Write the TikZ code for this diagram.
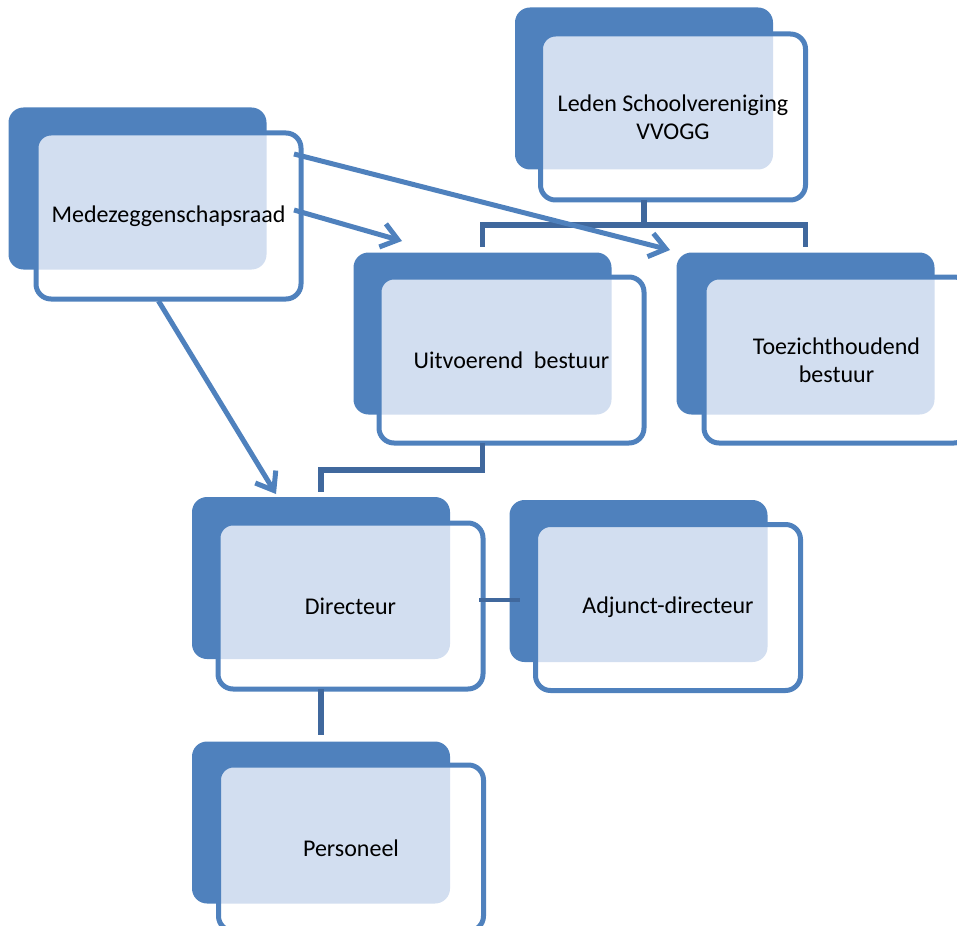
\documentclass[tikz,border=0pt]{standalone}
\usepackage{fontspec}
\setmainfont{Carlito}
\usetikzlibrary{arrows.meta}
\definecolor{mainblue}{RGB}{79,129,189}
\definecolor{linkblue}{RGB}{64,104,157}
\definecolor{tintblue}{RGB}{210,222,240}
\begin{document}
\begin{tikzpicture}[x=1pt,y=-1pt,
  backbox/.style={fill=mainblue, rounded corners=15pt, minimum width=258pt, minimum height=162pt, inner sep=0pt, outer sep=0pt},
  frontbox/.style={fill=white, rounded corners=15pt, minimum width=265pt, minimum height=166pt, inner sep=0pt, outer sep=0pt, align=center, font=\fontsize{24pt}{28pt}\selectfont,
    path picture={\fill[tintblue, rounded corners=15pt] (#1.north west) rectangle (#1.south east);},
    postaction={draw=mainblue, line width=5pt}},
  link/.style={draw=linkblue, line width=5.5pt},
  arrowline/.style={draw=mainblue, line width=5pt, -{Straight Barb[length=16pt,width=24pt]}}]
\useasboundingbox (0,0) rectangle (957,925);
\clip (0,0) rectangle (957,925);

% units
\node[backbox] (ledB) at (644,88.5) {};
\node[frontbox=ledB] (ledF) at (673,117) {Leden Schoolvereniging\\VVOGG};

\node[backbox] (medB) at (137.5,188.5) {};
\node[frontbox=medB] (medF) at (168.5,216) {Medezeggenschapsraad};

\node[backbox] (uitB) at (482.5,333.5) {};
\node[frontbox=uitB] (uitF) at (511.5,360) {Uitvoerend\ \ bestuur};

\node[backbox] (toeB) at (805.5,333.5) {};
\node[frontbox=toeB] (toeF) at (836.5,360) {Toezichthoudend\\bestuur};

\node[backbox] (dirB) at (321,578) {};
\node[frontbox=dirB] (dirF) at (350.5,606) {Directeur};

\node[backbox] (adjB) at (638.5,581) {};
\node[frontbox=adjB] (adjF) at (668,607.5) {Adjunct-directeur};

\node[backbox] (perB) at (321,822.5) {};
\node[frontbox=perB] (perF) at (351,848) {Personeel};

% connectors
\coordinate (ledJ) at (644,225);
\draw[link] (ledB.center |- ledF.south) -- (ledJ);
\draw[link] ([yshift=6pt]uitB.north) |- (ledJ) -| ([yshift=6pt]toeB.north);
\draw[link] (uitB.center |- uitF.south) -- ++(0,27) -| ([yshift=5pt]dirB.north);
\draw[link] (dirB.center |- dirF.south) -- ([yshift=7pt]perB.north);
\coordinate (adjJ) at (520,600);
\draw[link, line width=4.5pt] ([xshift=-4pt]dirF.east |- adjJ) -- (adjJ);

% arrows
\coordinate (a1) at (402,241);
\coordinate (a2) at (670,250);
\coordinate (a3) at (276,494);
\draw[arrowline] ([shift={(-7pt,6pt)}]medF.east) -- (a1);
\draw[arrowline] ([shift={(-7pt,-21pt)}]medF.north east) -- (a2);
\draw[arrowline] ([shift={(-10pt,-2pt)}]medF.south) -- (a3);
\end{tikzpicture}
\end{document}
